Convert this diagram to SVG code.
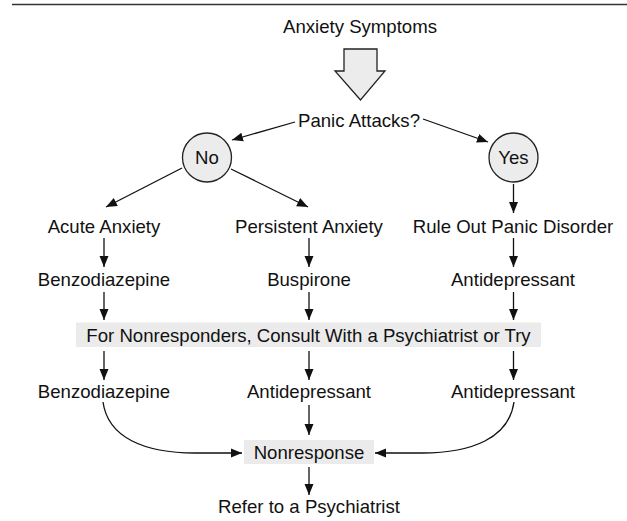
<svg xmlns="http://www.w3.org/2000/svg" width="627" height="521" viewBox="0 0 627 521">
<style>
text{font-family:"Liberation Sans",Arial,sans-serif;font-size:18.6px;fill:#111;text-anchor:middle}
.c{stroke:#111;stroke-width:1.3;fill:none}
.circ{fill:#ececec;stroke:#222;stroke-width:1.3}
.box{fill:#ebebeb}
</style>
<defs>
<marker id="ah" markerUnits="userSpaceOnUse" markerWidth="12" markerHeight="10" refX="11" refY="5" orient="auto">
<path d="M0,0.5 L11,5 L0,9.5 z" fill="#111"/>
</marker>
</defs>
<rect width="627" height="521" fill="#fff"/>
<line x1="12" y1="4.5" x2="627" y2="4.5" stroke="#333" stroke-width="1.6"/>
<g id="anxiety"><text x="360" y="33">Anxiety Symptoms</text></g>
<g id="bigarrow"><path d="M344,49 L377,49 L377,71 L385,71 L360.5,100 L335,71 L344,71 z" fill="#ececec" stroke="#222" stroke-width="1.3"/></g>
<g id="panic"><text x="359" y="127">Panic Attacks?</text></g>
<g id="no"><circle class="circ" cx="207" cy="157.5" r="24.5"/><text x="207" y="164">No</text></g>
<g id="yes"><circle class="circ" cx="513.5" cy="157.5" r="24.5"/><text x="513.5" y="164">Yes</text></g>
<g id="acute"><text x="104" y="233">Acute Anxiety</text></g>
<g id="persistent"><text x="309" y="233">Persistent Anxiety</text></g>
<g id="ruleout"><text x="513" y="233">Rule Out Panic Disorder</text></g>
<g id="benzo1"><text x="104" y="286">Benzodiazepine</text></g>
<g id="buspirone"><text x="309" y="286">Buspirone</text></g>
<g id="antidep1"><text x="513" y="286">Antidepressant</text></g>
<g id="consult"><rect class="box" x="76" y="322.5" width="465" height="24.5"/><text x="308.5" y="342">For Nonresponders, Consult With a Psychiatrist or Try</text></g>
<g id="benzo2"><text x="104" y="398">Benzodiazepine</text></g>
<g id="antidep2"><text x="309" y="398">Antidepressant</text></g>
<g id="antidep3"><text x="513" y="398">Antidepressant</text></g>
<g id="nonresponse"><rect class="box" x="244" y="440" width="130" height="24"/><text x="309" y="459">Nonresponse</text></g>
<g id="refer"><text x="309" y="513">Refer to a Psychiatrist</text></g>
<g id="connectors">
<path class="c" d="M295,122 L232,140" marker-end="url(#ah)"/>
<path class="c" d="M423,119 L488,142" marker-end="url(#ah)"/>
<path class="c" d="M182,168 L106,207" marker-end="url(#ah)"/>
<path class="c" d="M231,169 L308,207" marker-end="url(#ah)"/>
<path class="c" d="M513.5,184 L513.5,213" marker-end="url(#ah)"/>
<path class="c" d="M104,238 L104,267" marker-end="url(#ah)"/>
<path class="c" d="M309,238 L309,267" marker-end="url(#ah)"/>
<path class="c" d="M513.5,238 L513.5,267" marker-end="url(#ah)"/>
<path class="c" d="M104,292 L104,320" marker-end="url(#ah)"/>
<path class="c" d="M309,292 L309,320" marker-end="url(#ah)"/>
<path class="c" d="M513.5,292 L513.5,320" marker-end="url(#ah)"/>
<path class="c" d="M104,351 L104,380" marker-end="url(#ah)"/>
<path class="c" d="M309,351 L309,380" marker-end="url(#ah)"/>
<path class="c" d="M513.5,351 L513.5,380" marker-end="url(#ah)"/>
<path class="c" d="M309,405 L309,435" marker-end="url(#ah)"/>
<path class="c" d="M309,467 L309,495" marker-end="url(#ah)"/>
<path class="c" d="M103,402 C108,438 145,453 195,453 L242,453" marker-end="url(#ah)"/>
<path class="c" d="M514,402 C509,438 472,453 422,453 L375,453" marker-end="url(#ah)"/>
</g>
</svg>
